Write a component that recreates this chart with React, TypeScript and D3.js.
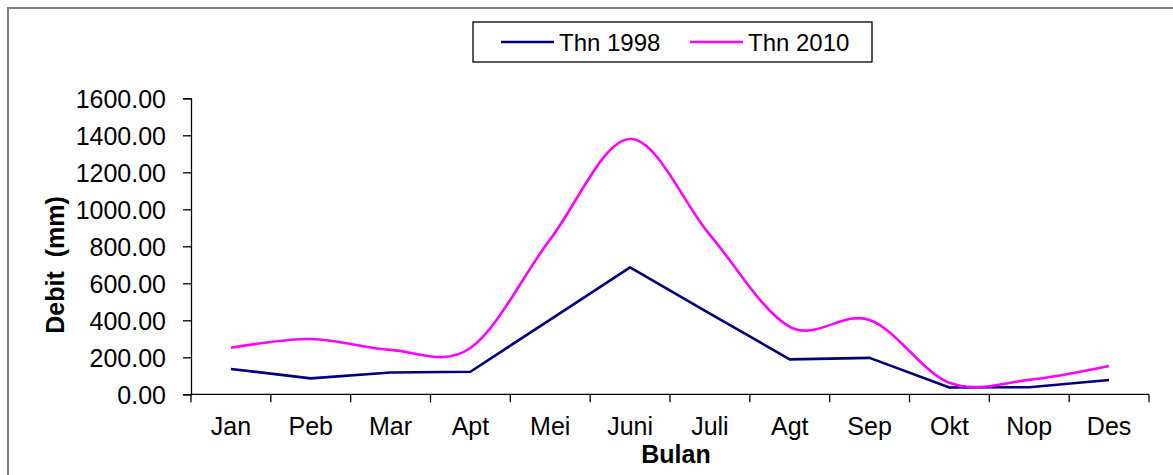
import React, { useEffect, useRef } from 'react';
import * as d3 from 'd3';

const months = ['Jan', 'Peb', 'Mar', 'Apt', 'Mei', 'Juni', 'Juli', 'Agt', 'Sep', 'Okt', 'Nop', 'Des'];
const thn1998 = [137, 86, 118, 122, 404, 686, 436, 189, 197, 37, 38, 77];
const thn2010 = [252, 299, 240, 250, 838, 1380, 862, 365, 402, 62, 78, 153];
const yTicks = [0, 200, 400, 600, 800, 1000, 1200, 1400, 1600];

const W = 1173;
const H = 475;
const FONT = '"Liberation Sans", Arial, sans-serif';

const App = () => {
  const ref = useRef<SVGSVGElement>(null);

  useEffect(() => {
    const svg = d3.select(ref.current);
    svg.selectAll('*').remove();

    // outer frame
    svg.append('rect')
      .attr('x', 8).attr('y', 8)
      .attr('width', W).attr('height', H)
      .attr('fill', 'white')
      .attr('stroke', '#808080')
      .attr('stroke-width', 2);

    const x = d3.scaleBand().domain(months).range([191, 1149]);
    const y = d3.scaleLinear().domain([0, 1600]).range([394.3, 98.3]);

    // y axis
    const yAxis = svg.append('g')
      .attr('transform', 'translate(191,0)')
      .call(d3.axisLeft(y).tickValues(yTicks).tickSize(8).tickPadding(17).tickFormat(d3.format('.2f')));
    yAxis.select('.domain').attr('stroke', '#000').attr('stroke-width', 1.3);
    yAxis.selectAll('.tick line').attr('stroke', '#000').attr('stroke-width', 1.3);
    yAxis.selectAll('.tick text')
      .attr('font-family', FONT).attr('font-size', 25).attr('fill', '#000').attr('dy', '0.36em');

    // x axis with ticks between categories
    const xAxis = svg.append('g').attr('transform', 'translate(0,394.3)');
    xAxis.append('line')
      .attr('x1', 191).attr('x2', 1149)
      .attr('stroke', '#000').attr('stroke-width', 1.3);
    const bounds = months.map(m => x(m) as number).concat([1149]);
    xAxis.selectAll('line.tk')
      .data(bounds)
      .enter().append('line')
      .attr('class', 'tk')
      .attr('x1', d => d).attr('x2', d => d)
      .attr('y1', 0).attr('y2', 8)
      .attr('stroke', '#000').attr('stroke-width', 1.3);
    xAxis.selectAll('text')
      .data(months)
      .enter().append('text')
      .attr('x', d => (x(d) as number) + x.bandwidth() / 2)
      .attr('y', 41)
      .attr('text-anchor', 'middle')
      .attr('font-family', FONT).attr('font-size', 25)
      .text(d => d);

    // axis titles
    svg.append('text')
      .attr('x', 676).attr('y', 463)
      .attr('text-anchor', 'middle')
      .attr('font-family', FONT).attr('font-size', 25).attr('font-weight', 'bold')
      .text('Bulan');
    svg.append('text')
      .attr('transform', 'translate(64,265) rotate(-90)')
      .attr('text-anchor', 'middle')
      .attr('font-family', FONT).attr('font-size', 25).attr('font-weight', 'bold')
      .attr('xml:space', 'preserve')
      .style('white-space', 'pre')
      .text('Debit  (mm)');

    const cx = (i: number) => (x(months[i]) as number) + x.bandwidth() / 2;

    const straight = d3.line<number>()
      .x((_, i) => cx(i))
      .y(d => y(d));
    const smooth = d3.line<number>()
      .x((_, i) => cx(i))
      .y(d => y(d))
      .curve(d3.curveCardinal.tension(0));

    svg.append('path')
      .attr('d', straight(thn1998))
      .attr('fill', 'none')
      .attr('stroke', '#000080')
      .attr('stroke-width', 2.6)
      .attr('stroke-linejoin', 'round');

    svg.append('path')
      .attr('d', smooth(thn2010))
      .attr('fill', 'none')
      .attr('stroke', '#FF00FF')
      .attr('stroke-width', 2.6);

    // legend
    const lg = svg.append('g');
    lg.append('rect')
      .attr('x', 473).attr('y', 22)
      .attr('width', 399).attr('height', 40)
      .attr('fill', 'white')
      .attr('stroke', '#000').attr('stroke-width', 1.3);
    const items = [
      { name: 'Thn 1998', color: '#000080', x0: 501 },
      { name: 'Thn 2010', color: '#FF00FF', x0: 690 },
    ];
    items.forEach(it => {
      lg.append('line')
        .attr('x1', it.x0).attr('x2', it.x0 + 53)
        .attr('y1', 42).attr('y2', 42)
        .attr('stroke', it.color).attr('stroke-width', 2.6);
      lg.append('text')
        .attr('x', it.x0 + 58).attr('y', 50.5)
        .attr('font-family', FONT).attr('font-size', 24)
        .text(it.name);
    });
  }, []);

  return (
    <svg
      ref={ref}
      width={W}
      height={H}
      style={{ position: 'absolute', left: 0, top: 0, background: 'white' }}
    />
  );
};

export default App;
